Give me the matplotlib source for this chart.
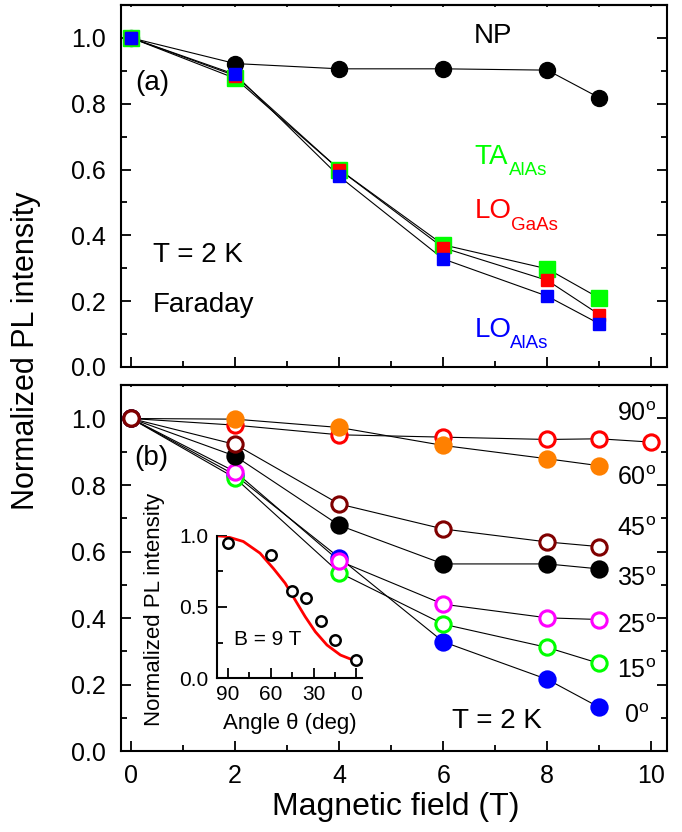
import matplotlib
matplotlib.use("Agg")
import matplotlib.pyplot as plt
from matplotlib.ticker import MultipleLocator, FormatStrFormatter

plt.rcParams['font.family'] = ['Liberation Sans', 'DejaVu Sans']
plt.rcParams['mathtext.fontset'] = 'custom'
plt.rcParams['mathtext.rm'] = 'Liberation Sans'
plt.rcParams['mathtext.it'] = 'Liberation Sans:italic'

# ---- panel (a): Faraday geometry ----
field_a = [0, 2, 4, 6, 8, 9]
np_vals = [1.0, 0.922, 0.906, 0.906, 0.902, 0.818]
ta_alas = [1.0, 0.877, 0.60, 0.371, 0.298, 0.209]
lo_gaas = [1.0, 0.885, 0.60, 0.362, 0.263, 0.159]
lo_alas = [1.0, 0.889, 0.579, 0.328, 0.215, 0.131]

# ---- panel (b): tilted field, angle series ----
field_b = [0, 2, 4, 6, 8, 9]
field_b90 = [0, 2, 4, 6, 8, 9, 10]
deg90 = [1.0, 0.98, 0.951, 0.944, 0.937, 0.939, 0.929]
deg60 = [1.0, 0.998, 0.973, 0.919, 0.879, 0.858]
deg45 = [1.0, 0.922, 0.743, 0.668, 0.629, 0.615]
deg35 = [1.0, 0.887, 0.679, 0.563, 0.563, 0.548]
deg25 = [1.0, 0.840, 0.572, 0.442, 0.401, 0.396]
deg15 = [1.0, 0.821, 0.537, 0.382, 0.312, 0.264]
deg0 = [1.0, 0.83, 0.582, 0.329, 0.216, 0.132]
angle_labels = ['90', '60', '45', '35', '25', '15', '0']
angle_label_y = [1.015, 0.82, 0.669, 0.518, 0.377, 0.241, 0.105]

# ---- inset: intensity at B = 9 T vs angle ----
inset_angle = [90, 60, 45, 35, 25, 15, 0]
inset_int = [0.949, 0.866, 0.613, 0.561, 0.404, 0.268, 0.127]
fit_angle = [97.5, 90.9, 79.2, 67.5, 58.1, 49.9, 42.9, 35.9, 28.8, 20.6, 11.2, 4.2, -4.0]
fit_int = [1.0, 0.995, 0.96, 0.878, 0.77, 0.667, 0.549, 0.432, 0.326, 0.232, 0.162, 0.134, 0.127]

fig = plt.figure(figsize=(6.82, 8.32), dpi=100)
ax1 = fig.add_axes([0.177, 0.559, 0.801, 0.435])
ax2 = fig.add_axes([0.177, 0.097, 0.801, 0.440])

GREEN = '#00ff00'
RED = '#ff0000'
BLUE = '#0000ff'
ORANGE = '#ff8000'
MAROON = '#800000'
MAGENTA = '#ff00ff'

for ax in (ax1, ax2):
    ax.set_xlim(-0.2, 10.3)
    ax.set_ylim(0, 1.1)
    ax.xaxis.set_major_locator(MultipleLocator(2))
    ax.xaxis.set_minor_locator(MultipleLocator(1))
    ax.yaxis.set_major_locator(MultipleLocator(0.2))
    ax.yaxis.set_minor_locator(MultipleLocator(0.1))
    ax.tick_params(which='both', direction='in', top=False, right=True, width=1.3, labelsize=18)
    ax.tick_params(which='major', length=7)
    ax.tick_params(which='minor', length=4)
    ax.tick_params(axis='y', pad=11)
    ax.tick_params(axis='x', pad=9)
    for s in ax.spines.values():
        s.set_linewidth(1.5)
    ax.yaxis.set_major_formatter(FormatStrFormatter('%.1f'))
    # tiny ticks along the top edge
    top = ax.secondary_xaxis('top')
    top.xaxis.set_major_locator(MultipleLocator(1))
    top.tick_params(which='both', direction='in', length=1.5, width=1.2, labeltop=False)
    top.spines['top'].set_linewidth(1.5)

ax1.tick_params(axis='x', labelbottom=False)

# panel (a)
ax1.plot(field_a, np_vals, color='black', lw=0.8, marker='o', ms=11.5, zorder=3)
ax1.plot(field_a, ta_alas, color='black', lw=0.8, zorder=2)
ax1.plot(field_a, lo_gaas, color='black', lw=0.8, zorder=2)
ax1.plot(field_a, lo_alas, color='black', lw=0.8, zorder=2)
ax1.plot(field_a, ta_alas, ls='none', marker='s', ms=11, mfc=GREEN, mec=GREEN, zorder=3)
ax1.plot(field_a, lo_gaas, ls='none', marker='s', ms=8.5, mfc=RED, mec=RED, zorder=4)
ax1.plot(field_a, lo_alas, ls='none', marker='s', ms=8.5, mfc=BLUE, mec=BLUE, zorder=5)

ax1.text(6.96, 1.005, 'NP', fontsize=20, ha='center', va='center')
ax1.text(0.4, 0.864, '(a)', fontsize=20, ha='center', va='center')
ax1.text(0.43, 0.319, 'T = 2 K', fontsize=20, ha='left', va='baseline')
ax1.text(0.42, 0.168, 'Faraday', fontsize=20, ha='left', va='baseline')
ax1.text(6.6, 0.618, 'TA', fontsize=20, color=GREEN, va='baseline')
ax1.text(7.26, 0.582, 'AlAs', fontsize=13.5, color=GREEN, va='baseline')
ax1.text(6.6, 0.452, 'LO', fontsize=20, color=RED, va='baseline')
ax1.text(7.31, 0.415, 'GaAs', fontsize=13.5, color=RED, va='baseline')
ax1.text(6.6, 0.091, 'LO', fontsize=20, color=BLUE, va='baseline')
ax1.text(7.29, 0.058, 'AlAs', fontsize=13.5, color=BLUE, va='baseline')

# panel (b)
series = [
    (field_b90, deg90, RED, 'white'),
    (field_b, deg60, ORANGE, ORANGE),
    (field_b, deg0, BLUE, BLUE),
    (field_b, deg15, GREEN, 'white'),
    (field_b, deg25, MAGENTA, 'white'),
    (field_b, deg35, 'black', 'black'),
    (field_b, deg45, MAROON, 'white'),
]
for i, (xs, ys, ec, fc) in enumerate(series):
    ax2.plot(xs, ys, color='black', lw=0.8, zorder=2)
    ax2.plot(xs, ys, ls='none', marker='o', ms=11, mfc=fc, mec=ec, mew=2.2, zorder=3 + i)

for lab, y in zip(angle_labels, angle_label_y):
    ax2.text(9.72, y, lab + r'$^{\mathrm{o}}$', fontsize=18, ha='center', va='center')
ax2.text(0.39, 0.88, '(b)', fontsize=20, ha='center', va='center')
ax2.text(6.17, 0.069, 'T = 2 K', fontsize=20, ha='left', va='baseline')

# inset
axi = fig.add_axes([0.318, 0.185, 0.213, 0.171])
axi.set_xlim(97.7, -4)
axi.set_ylim(0, 1.0)
axi.spines['top'].set_visible(False)
axi.spines['right'].set_visible(False)
for s in ('left', 'bottom'):
    axi.spines[s].set_linewidth(1.5)
axi.patch.set_alpha(0)
axi.xaxis.set_major_locator(MultipleLocator(30))
axi.xaxis.set_minor_locator(MultipleLocator(15))
axi.yaxis.set_major_locator(MultipleLocator(0.5))
axi.yaxis.set_minor_locator(MultipleLocator(0.25))
axi.yaxis.set_major_formatter(FormatStrFormatter('%.1f'))
axi.tick_params(which='both', direction='in', width=1.3, labelsize=15)
axi.tick_params(which='major', length=7)
axi.tick_params(which='minor', length=4)
axi.tick_params(axis='y', pad=6)
axi.tick_params(axis='x', pad=5)
axi.plot(fit_angle, fit_int, color=RED, lw=2, zorder=2)
axi.plot(inset_angle, inset_int, ls='none', marker='o', ms=7.5, mfc='white', mec='black', mew=1.8, zorder=3)
axi.text(85.8, 0.268, 'B = 9 T', fontsize=15, ha='left', va='center')

fig.text(0.227, 0.267, 'Normalized PL intensity', fontsize=16, rotation=90, ha='center', va='center')
fig.text(0.425, 0.13, 'Angle θ (deg)', fontsize=16, ha='center', va='center')

fig.text(0.038, 0.578, 'Normalized PL intensity', fontsize=22, rotation=90, ha='center', va='center')
fig.text(0.581, 0.0204, 'Magnetic field (T)', fontsize=23, ha='center', va='baseline')

fig.savefig('out.png', dpi=100)
